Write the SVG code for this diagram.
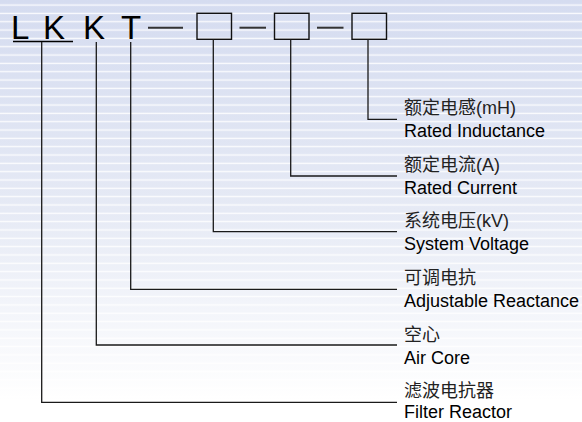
<svg xmlns="http://www.w3.org/2000/svg" width="582" height="422" viewBox="0 0 582 422">
  <defs>
    <linearGradient id="bg" x1="0" y1="0" x2="0" y2="1">
      <stop offset="0" stop-color="#d5dcf0"/>
      <stop offset="0.5" stop-color="#e6eaf5"/>
      <stop offset="0.95" stop-color="#ffffff"/>
    </linearGradient>
    <pattern id="stripes" x="0" y="0" width="582" height="8.33" patternUnits="userSpaceOnUse">
      <rect x="0" y="4.4" width="582" height="1.3" fill="#ffffff" opacity="0.9"/>
    </pattern>
  </defs>
  <style>
    .code { font-family: "Liberation Sans", Arial, sans-serif; font-size: 33px; fill: #000; }
    .cn { font-family: "Liberation Sans", "Noto Sans CJK SC", sans-serif; font-size: 18px; fill: #222; }
    .en { font-family: "Liberation Sans", Arial, sans-serif; font-size: 18px; fill: #000; }
    .box { fill: none; stroke: #111; stroke-width: 1.4; }
    .dash { stroke: #333; stroke-width: 2; }
    .conn { fill: none; stroke: #1a1a1a; stroke-width: 1.3; }
  </style>
  <rect width="582" height="422" fill="url(#bg)"/>
  <rect width="582" height="422" fill="url(#stripes)"/>

  <g id="code">
    <text class="code" x="11" y="39">L</text>
    <text class="code" x="43" y="39">K</text>
    <text class="code" x="83" y="39">K</text>
    <text class="code" x="121" y="39">T</text>
    <line x1="13" y1="41.5" x2="73" y2="41.5" stroke="#000" stroke-width="1.4"/>
  </g>
  <g id="dashes">
    <line class="dash" x1="148" y1="27.7" x2="183" y2="27.7"/>
    <line class="dash" x1="239.5" y1="27.7" x2="266" y2="27.7"/>
    <line class="dash" x1="317" y1="27.7" x2="343.5" y2="27.7"/>
  </g>
  <g id="box1"><rect class="box" x="197" y="13.3" width="34.5" height="26"/></g>
  <g id="box2"><rect class="box" x="274.5" y="13.3" width="34.5" height="26"/></g>
  <g id="box3"><rect class="box" x="352" y="13.3" width="34.5" height="26"/></g>

  <g id="connectors">
    <polyline class="conn" points="368,39.3 368,119.3 397,119.3"/>
    <polyline class="conn" points="290.7,39.3 290.7,176 397,176"/>
    <polyline class="conn" points="213.3,39.3 213.3,231.7 397,231.7"/>
    <polyline class="conn" points="130.7,42 130.7,289.3 397,289.3"/>
    <polyline class="conn" points="96.3,42 96.3,345 397,345"/>
    <polyline class="conn" points="41.7,42 41.7,402.3 397,402.3"/>
  </g>

  <g id="label-inductance">
    <text class="cn" x="404" y="114">额定电感(mH)</text>
    <text class="en" x="404" y="137">Rated Inductance</text>
  </g>
  <g id="label-current">
    <text class="cn" x="404" y="171">额定电流(A)</text>
    <text class="en" x="404" y="194">Rated Current</text>
  </g>
  <g id="label-voltage">
    <text class="cn" x="404" y="227">系统电压(kV)</text>
    <text class="en" x="404" y="250">System Voltage</text>
  </g>
  <g id="label-adjustable">
    <text class="cn" x="404" y="284">可调电抗</text>
    <text class="en" x="404" y="307">Adjustable Reactance</text>
  </g>
  <g id="label-aircore">
    <text class="cn" x="404" y="341">空心</text>
    <text class="en" x="404" y="364">Air Core</text>
  </g>
  <g id="label-filter">
    <text class="cn" x="404" y="397">滤波电抗器</text>
    <text class="en" x="404" y="418">Filter Reactor</text>
  </g>
</svg>
